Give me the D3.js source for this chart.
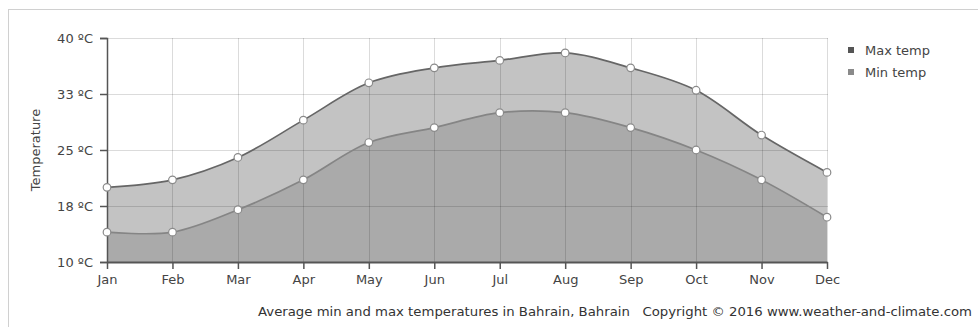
<!DOCTYPE html>
<html>
<head>
<meta charset="utf-8">
<script src="https://cdn.jsdelivr.net/npm/d3@7"></script>
<style>
  html, body { margin: 0; padding: 0; background: #fff; }
  svg { display: block; }
  text { font-family: "DejaVu Sans", Verdana, sans-serif; }
</style>
</head>
<body>
<svg id="chart" width="978" height="327"></svg>
<script>
const months = ["Jan","Feb","Mar","Apr","May","Jun","Jul","Aug","Sep","Oct","Nov","Dec"];
const maxTemp = [20, 21, 24, 29, 34, 36, 37, 38, 36, 33, 27, 22];
const minTemp = [14, 14, 17, 21, 26, 28, 30, 30, 28, 25, 21, 16];
const yTicks = [10, 17.5, 25, 32.5, 40];
const yTickLabels = ["10 ºC", "18 ºC", "25 ºC", "33 ºC", "40 ºC"];
const seriesNames = ["Max temp", "Min temp"];
const caption = "Average min and max temperatures in Bahrain, Bahrain   Copyright © 2016 www.weather-and-climate.com";

const svg = d3.select("#chart");
const W = 978, H = 327;
const plot = {left: 107, right: 827, top: 38, bottom: 262};
const FS = 13;

// outer frame
svg.append("rect").attr("x", 8.5).attr("y", 9.5).attr("width", W).attr("height", H)
  .attr("fill", "none").attr("stroke", "#d0d0d0");

const x = d3.scalePoint().domain(months).range([plot.left, plot.right]);
const y = d3.scaleLinear().domain([10, 40]).range([plot.bottom, plot.top]);

const curve = d3.curveCatmullRom.alpha(0.5);

// areas
const areaMax = d3.area().x((d, i) => x(months[i])).y0(y(10)).y1(d => y(d)).curve(curve);
const areaMin = d3.area().x((d, i) => x(months[i])).y0(y(10)).y1(d => y(d)).curve(curve);
svg.append("path").datum(maxTemp).attr("d", areaMax).attr("fill", "#c3c3c3");
svg.append("path").datum(minTemp).attr("d", areaMin).attr("fill", "#aaaaaa");

// gridlines (drawn over areas, semi-transparent)
const grid = svg.append("g");
grid.selectAll("line.h").data(yTicks.slice(1)).enter().append("line")
  .attr("x1", plot.left).attr("x2", plot.right + 1)
  .attr("y1", d => Math.round(y(d)) + 0.5).attr("y2", d => Math.round(y(d)) + 0.5)
  .attr("stroke", "rgba(0,0,0,0.14)").attr("stroke-width", 1);
grid.selectAll("line.v").data(months.slice(1)).enter().append("line")
  .attr("x1", d => Math.round(x(d)) + 0.5).attr("x2", d => Math.round(x(d)) + 0.5)
  .attr("y1", plot.top).attr("y2", plot.bottom)
  .attr("stroke", "rgba(0,0,0,0.14)").attr("stroke-width", 1);

// lines
const line = d3.line().x((d, i) => x(months[i])).y(d => y(d)).curve(curve);
svg.append("path").datum(maxTemp).attr("d", line).attr("fill", "none")
  .attr("stroke", "#666").attr("stroke-width", 1.7);
svg.append("path").datum(minTemp).attr("d", line).attr("fill", "none")
  .attr("stroke", "#858585").attr("stroke-width", 1.7);

// axes
const yAxis = d3.axisLeft(y).tickValues(yTicks).tickFormat((d, i) => yTickLabels[i])
  .tickSize(7).tickPadding(7);
const gy = svg.append("g").attr("transform", `translate(${plot.left},0)`).call(yAxis);
gy.select(".domain").attr("stroke", "#555").attr("stroke-width", 1.5);
gy.selectAll(".tick line").attr("stroke", "#555").attr("stroke-width", 1.5);
gy.selectAll(".tick text").attr("fill", "#444").attr("font-size", FS)
  .attr("font-family", "DejaVu Sans, Verdana, sans-serif");

const xAxis = d3.axisBottom(x).tickSize(7).tickPadding(6).tickSizeOuter(0);
const gx = svg.append("g").attr("transform", `translate(0,${plot.bottom})`).call(xAxis);
gx.select(".domain").attr("stroke", "#555").attr("stroke-width", 2);
gx.selectAll(".tick line").attr("stroke", "#555").attr("stroke-width", 1.5);
gx.selectAll(".tick text").attr("fill", "#444").attr("font-size", FS)
  .attr("font-family", "DejaVu Sans, Verdana, sans-serif");

// points
const pts = svg.append("g");
[maxTemp, minTemp].forEach(series => {
  pts.selectAll(null).data(series).enter().append("circle")
    .attr("cx", (d, i) => x(months[i])).attr("cy", d => y(d)).attr("r", 3.8)
    .attr("fill", "#fff").attr("stroke", "#8a8a8a").attr("stroke-width", 1.2);
});

// y title
svg.append("text").attr("transform", `translate(40,${(plot.top + plot.bottom) / 2}) rotate(-90)`)
  .attr("text-anchor", "middle").attr("font-size", FS).attr("fill", "#444").text("Temperature");

// legend
const legColors = ["#555", "#8a8a8a"];
const leg = svg.append("g");
seriesNames.forEach((n, i) => {
  leg.append("rect").attr("x", 848).attr("y", 47 + i * 22).attr("width", 6).attr("height", 6)
    .attr("fill", legColors[i]);
  leg.append("text").attr("x", 865).attr("y", 55 + i * 22).attr("font-size", FS)
    .attr("fill", "#444").text(n);
});

// caption
svg.append("text").attr("x", 972).attr("y", 316).attr("text-anchor", "end")
  .attr("font-size", FS).attr("fill", "#333").attr("xml:space", "preserve")
  .attr("textLength", 714).attr("lengthAdjust", "spacingAndGlyphs")
  .style("white-space", "pre").text(caption);
</script>
</body>
</html>
